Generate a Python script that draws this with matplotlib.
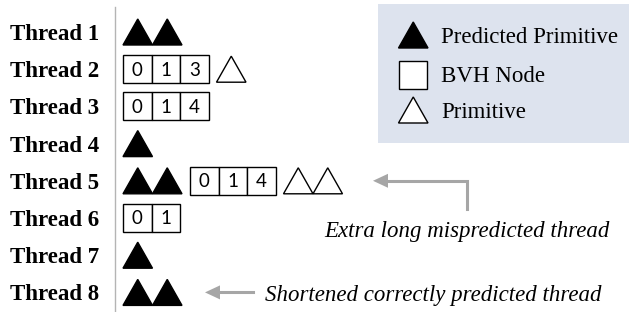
import matplotlib
matplotlib.use("Agg")
from matplotlib import pyplot as plt
from matplotlib.patches import Polygon, Rectangle

# per-thread contents, drawn left to right: predicted prims, BVH nodes, prims
thread_labels = ["Thread 1", "Thread 2", "Thread 3", "Thread 4",
                 "Thread 5", "Thread 6", "Thread 7", "Thread 8"]
predicted_prims = [2, 0, 0, 1, 2, 0, 1, 2]
bvh_nodes = [[], [0, 1, 3], [0, 1, 4], [], [0, 1, 4], [0, 1], [], []]
primitives = [0, 1, 0, 0, 2, 0, 0, 0]

legend_labels = ["Predicted Primitive", "BVH Node", "Primitive"]
note_long = "Extra long mispredicted thread"
note_short = "Shortened correctly predicted thread"

SERIF = "Liberation Serif"
GREY = "#a6a6a6"
TRI_W, TRI_H = 29.5, 26
CELL_W, CELL_H = 28.5, 28
GAP = 8


def triangle(ax, x, yc, filled):
    pts = [(x, yc + TRI_H / 2), (x + TRI_W, yc + TRI_H / 2), (x + TRI_W / 2, yc - TRI_H / 2)]
    ax.add_patch(Polygon(pts, closed = True, facecolor = "black" if filled else "white",
                         edgecolor = "black", linewidth = 1.0, zorder = 3))


fig = plt.figure(figsize = (6.29, 3.12), dpi = 100)
ax = fig.add_axes([0, 0, 1, 1])
ax.set_xlim(0, 629)
ax.set_ylim(312, 0)
ax.axis("off")

# legend panel
ax.add_patch(Rectangle((378, 4), 251, 139, facecolor = "#dde3ee", edgecolor = "none", zorder = 1))
leg_y = [35, 74.5, 110]
triangle(ax, 398.5, leg_y[0], True)
ax.add_patch(Rectangle((399, leg_y[1] - 14), 28, 28, facecolor = "white", edgecolor = "black",
                       linewidth = 1.0, zorder = 3))
triangle(ax, 398.5, leg_y[2], False)
for yy, lab in zip(leg_y, legend_labels):
    ax.text(441, yy + 8, lab, fontsize = 16.5, family = SERIF, va = "baseline", ha = "left", zorder = 4)

# separator line
ax.plot([114.5, 114.5], [7, 312], color = "#b4b4b4", linewidth = 1.0)

row_y0, row_dy = 32, 37.2
for i, lab in enumerate(thread_labels):
    yc = row_y0 + i * row_dy
    ax.text(99, yc + 8, lab, fontsize = 16.5, family = SERIF, fontweight = "bold",
            ha = "right", va = "baseline")
    x = 123
    for k in range(predicted_prims[i]):
        triangle(ax, x, yc, True)
        x += TRI_W
    if predicted_prims[i]:
        x += GAP
    if bvh_nodes[i]:
        for node in bvh_nodes[i]:
            ax.add_patch(Rectangle((x, yc - CELL_H / 2), CELL_W, CELL_H, facecolor = "white",
                                   edgecolor = "black", linewidth = 1.0, zorder = 3))
            ax.text(x + CELL_W / 2, yc + 6.5, str(node), fontsize = 13.5, family = "Lato",
                    ha = "center", va = "baseline", zorder = 4)
            x += CELL_W
        x += GAP
    for k in range(primitives[i]):
        triangle(ax, x, yc, False)
        x += TRI_W

# annotations
y5 = row_y0 + 4 * row_dy
y8 = row_y0 + 7 * row_dy
ax.plot([467, 467, 385], [209, y5, y5], color = GREY, linewidth = 2.2, solid_joinstyle = "miter")
ax.add_patch(Polygon([(373, y5), (388, y5 - 7), (388, y5 + 7)], closed = True,
                     facecolor = GREY, edgecolor = "none"))
ax.text(610, 237, note_long, fontsize = 16.5, family = SERIF, style = "italic",
        ha = "right", va = "baseline")

ax.plot([253, 215], [y8, y8], color = GREY, linewidth = 2.2)
ax.add_patch(Polygon([(205, y8), (220, y8 - 7), (220, y8 + 7)], closed = True,
                     facecolor = GREY, edgecolor = "none"))
ax.text(265, 301.5, note_short, fontsize = 16.5, family = SERIF, style = "italic",
        ha = "left", va = "baseline")

plt.savefig("out.png", dpi = 100)
